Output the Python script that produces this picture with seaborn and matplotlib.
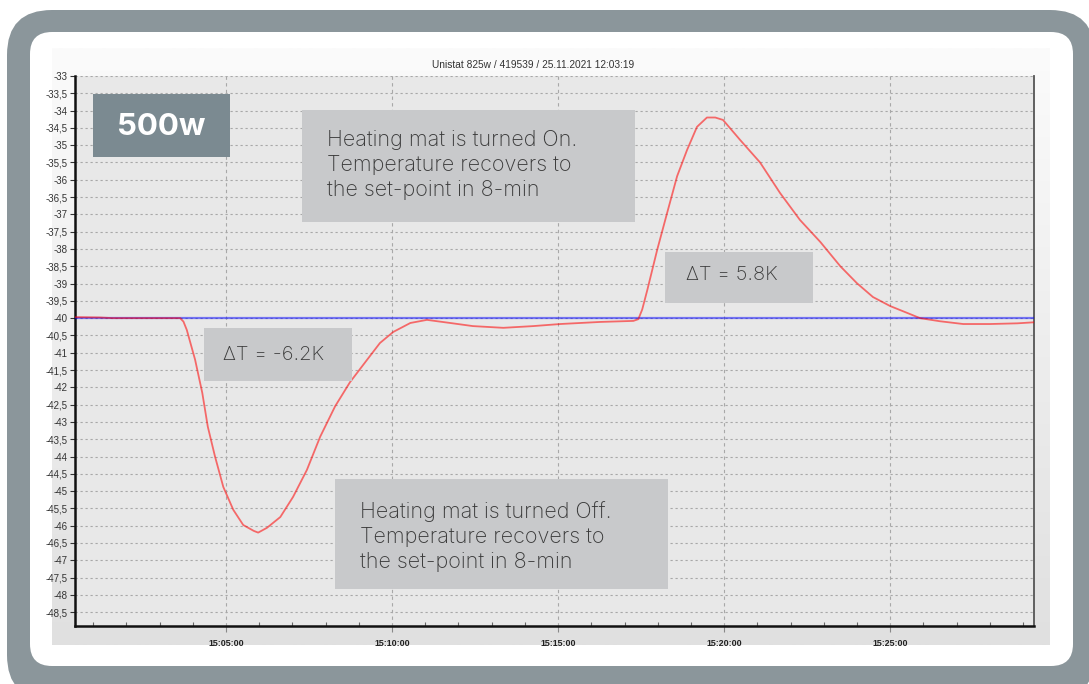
import numpy as np
import pandas as pd
import matplotlib
matplotlib.use("Agg")
import matplotlib.pyplot as plt
import matplotlib.dates as mdates
from matplotlib.patches import FancyBboxPatch, Rectangle
from matplotlib.ticker import FuncFormatter
from matplotlib.colors import LinearSegmentedColormap
import seaborn as sns

# ---- data -------------------------------------------------------------
DAY = "2021-11-25 "
TITLE = "Unistat 825w / 419539 / 25.11.2021 12:03:19"

times = [
    "15:00:27", "15:01:12", "15:01:35", "15:03:37", "15:03:43", "15:03:49",
    "15:04:04", "15:04:17", "15:04:27", "15:04:40", "15:04:55", "15:05:13",
    "15:05:31", "15:05:50", "15:05:58", "15:06:14", "15:06:38", "15:07:01",
    "15:07:26", "15:07:50", "15:08:17", "15:08:44", "15:09:15", "15:09:38",
    "15:10:02", "15:10:33", "15:11:03", "15:11:45", "15:12:26", "15:13:21",
    "15:14:15", "15:15:04", "15:16:16", "15:17:16", "15:17:25", "15:17:32",
    "15:17:41", "15:17:59", "15:18:17", "15:18:35", "15:18:53", "15:19:11",
    "15:19:29", "15:19:44", "15:19:58", "15:20:29", "15:21:05", "15:21:41",
    "15:22:17", "15:22:54", "15:23:30", "15:24:00", "15:24:29", "15:25:00",
    "15:25:31", "15:25:54", "15:26:30", "15:27:12", "15:28:01", "15:28:50",
    "15:29:20",
]
temps = [
    -39.97, -39.98, -40.00, -40.00, -40.10, -40.34,
    -41.20, -42.16, -43.14, -44.00, -44.88, -45.54,
    -45.98, -46.15, -46.20, -46.06, -45.75, -45.17,
    -44.39, -43.43, -42.55, -41.85, -41.20, -40.72,
    -40.40, -40.14, -40.05, -40.14, -40.23, -40.28,
    -40.23, -40.17, -40.11, -40.08, -40.03, -39.75,
    -39.20, -38.03, -36.96, -35.90, -35.14, -34.47,
    -34.20, -34.20, -34.27, -34.85, -35.50, -36.38,
    -37.16, -37.80, -38.50, -38.99, -39.39, -39.65,
    -39.85, -40.00, -40.09, -40.17, -40.17, -40.15,
    -40.12,
]
setpoint_times = ["15:00:27", "15:29:20"]
setpoint_temps = [-40.0, -40.0]

y_ticks = np.arange(-33.0, -48.51, -0.5)
y_limits = (-48.9, -33.0)
x_limits = ("15:00:27", "15:29:20")

badge_text = "500w"
note_on = ["Heating mat is turned On.", "Temperature recovers to", "the set-point in 8-min"]
note_off = ["Heating mat is turned Off.", "Temperature recovers to", "the set-point in 8-min"]
delta_low = "\u0394T = -6.2K"
delta_high = "\u0394T = 5.8K"

# ---- style ------------------------------------------------------------
sns.set_style("ticks")
plt.rcParams["font.family"] = ["Liberation Sans", "DejaVu Sans"]
NOTE_FONT = ["Inter", "DejaVu Sans"]

W, H = 1089, 684
fig = plt.figure(figsize=(W / 100, H / 100), dpi=100, facecolor="white")

# background canvas in pixel units (frame + chart panel)
bg = fig.add_axes([0, 0, 1, 1], zorder=0)
bg.set_xlim(0, W)
bg.set_ylim(H, 0)
bg.axis("off")
bg.add_patch(FancyBboxPatch((7, 10), 1095 - 7, 700 - 10,
                            boxstyle="round,pad=0,rounding_size=45",
                            fc="#8b969b", ec="none"))
bg.add_patch(FancyBboxPatch((30, 32), 1073 - 30, 666 - 32,
                            boxstyle="round,pad=0,rounding_size=22",
                            fc="white", ec="none"))
panel_cmap = LinearSegmentedColormap.from_list("panel", ["#fbfbfb", "#e0e0e0"])
bg.imshow(np.linspace(0, 1, 256).reshape(-1, 1), extent=[52, 1050, 645, 48],
          cmap=panel_cmap, aspect="auto", zorder=2, interpolation="bilinear")
bg.text(533, 65, TITLE, ha="center", va="center", fontsize=7.3, color="#333333")

# ---- main chart -------------------------------------------------------
ax = fig.add_axes([75 / W, 1 - 626 / H, (1034 - 75) / W, (626 - 76) / H], zorder=1)
ax.set_facecolor("#e8e8e8")

to_dt = lambda s: pd.to_datetime([DAY + t for t in s])
curve = pd.DataFrame({"time": to_dt(times), "temp": temps})
setpoint = pd.DataFrame({"time": to_dt(setpoint_times), "temp": setpoint_temps})

sns.lineplot(data=setpoint, x="time", y="temp", ax=ax, color="#0000ff",
             alpha=0.5, lw=1.6, zorder=3)
sns.lineplot(data=curve, x="time", y="temp", ax=ax, color="#ff0000",
             alpha=0.55, lw=1.3, zorder=4)

xl = to_dt(x_limits)
ax.set_xlim(xl[0], xl[1])
ax.set_ylim(*y_limits)
ax.set_xlabel("")
ax.set_ylabel("")

ax.set_yticks(y_ticks)
ax.yaxis.set_major_formatter(FuncFormatter(lambda v, p: f"{v:g}".replace(".", ",")))
ax.xaxis.set_major_locator(mdates.MinuteLocator(byminute=range(0, 60, 5)))
ax.xaxis.set_minor_locator(mdates.MinuteLocator())
ax.xaxis.set_major_formatter(mdates.DateFormatter("%H:%M:%S"))

ax.tick_params(axis="y", labelsize=7, labelcolor="#333333", color="#333333",
               length=3.5, width=0.8, pad=1.5)
ax.tick_params(axis="x", which="major", labelsize=6.4, labelcolor="#222222",
               color="#888888", length=4, width=0.8, pad=5)
ax.tick_params(axis="x", which="minor", direction="in", color="#666666",
               length=3, width=0.8)
for lbl in ax.get_xticklabels():
    lbl.set_fontweight("bold")

ax.grid(axis="y", which="major", color="#a8a8a8", lw=0.8, ls=(0, (2, 2.5)))
ax.grid(axis="x", which="major", color="#a8a8a8", lw=0.8, ls=(0, (3, 3)))
ax.set_axisbelow(True)

ax.spines["top"].set_visible(False)
ax.spines["left"].set_color("#111111")
ax.spines["left"].set_linewidth(1.8)
ax.spines["bottom"].set_color("#111111")
ax.spines["bottom"].set_linewidth(1.8)
ax.spines["right"].set_color("#555555")
ax.spines["right"].set_linewidth(1.3)

# ---- annotation overlay (pixel units) ----------------------------------
ov = fig.add_axes([0, 0, 1, 1], zorder=2)
ov.set_xlim(0, W)
ov.set_ylim(H, 0)
ov.axis("off")

def box(x0, y0, x1, y1, color):
    ov.add_patch(Rectangle((x0, y0), x1 - x0, y1 - y0, fc=color, ec="none"))

NOTE_BG = "#c8c9cb"
NOTE_FG = "#3a3a3a"
NOTE_SIZE = 15.5
DELTA_SIZE = 14.5

box(93, 94, 230, 157, "#7b8a91")
ov.text(161, 127, badge_text, ha="center", va="center", fontsize=22.5,
        fontweight="bold", color="white", family=NOTE_FONT)

box(302, 110, 635, 222, NOTE_BG)
for i, line in enumerate(note_on):
    ov.text(327, 140 + 25 * i, line, ha="left", va="center", fontsize=NOTE_SIZE,
            color=NOTE_FG, family=NOTE_FONT, fontweight="light")

box(335, 479, 668, 589, NOTE_BG)
for i, line in enumerate(note_off):
    ov.text(360, 512 + 25 * i, line, ha="left", va="center", fontsize=NOTE_SIZE,
            color=NOTE_FG, family=NOTE_FONT, fontweight="light")

box(204, 328, 352, 381, NOTE_BG)
ov.text(223, 355, delta_low, ha="left", va="center", fontsize=DELTA_SIZE,
        color=NOTE_FG, family=NOTE_FONT, fontweight="light")

box(665, 252, 813, 303, NOTE_BG)
ov.text(686, 275, delta_high, ha="left", va="center", fontsize=DELTA_SIZE,
        color=NOTE_FG, family=NOTE_FONT, fontweight="light")

fig.savefig("out.png", dpi=100, facecolor="white")
